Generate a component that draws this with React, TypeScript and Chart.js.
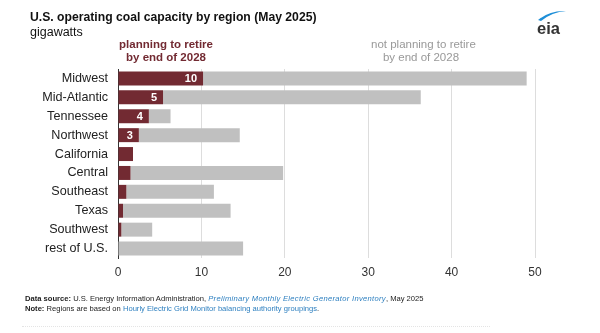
import React, { useEffect, useRef } from "react";
import { Chart, registerables } from "chart.js";

Chart.register(...registerables);

const regions = ["Midwest", "Mid-Atlantic", "Tennessee", "Northwest", "California", "Central", "Southeast", "Texas", "Southwest", "rest of U.S."];
const retiring = [10.2, 5.4, 3.7, 2.5, 1.8, 1.5, 1.0, 0.6, 0.4, 0];
const notRetiring = [38.8, 30.9, 2.6, 12.1, 0, 18.3, 10.5, 12.9, 3.7, 15.0];
const retireLabels = ["10", "5", "4", "3", "", "", "", "", "", ""];
const xTicks = [0, 10, 20, 30, 40, 50];

const RED = "#722a32";
const GREY = "#c0c0c0";
const FONT = "'Liberation Sans', Arial, sans-serif";

const barLabelPlugin = {
  id: "barLabels",
  afterDatasetsDraw(chart: any) {
    const meta = chart.getDatasetMeta(0);
    const ctx = chart.ctx;
    ctx.save();
    ctx.font = `bold 11px ${FONT}`;
    ctx.fillStyle = "#ffffff";
    ctx.textAlign = "right";
    ctx.textBaseline = "middle";
    meta.data.forEach((bar: any, i: number) => {
      const t = retireLabels[i];
      if (!t) return;
      ctx.fillText(t, bar.x - 6, bar.y + 0.5);
    });
    ctx.restore();
  },
};

export default function App() {
  const ref = useRef<HTMLCanvasElement | null>(null);
  useEffect(() => {
    if (!ref.current) return;
    const chart = new Chart(ref.current, {
      type: "bar",
      data: {
        labels: regions,
        datasets: [
          { label: "planning to retire by end of 2028", data: retiring, backgroundColor: RED, borderWidth: 0 },
          { label: "not planning to retire by end of 2028", data: notRetiring, backgroundColor: GREY, borderWidth: 0 },
        ],
      },
      options: {
        indexAxis: "y",
        responsive: false,
        animation: false,
        layout: { padding: { left: 0, right: 65, top: 69, bottom: 55 } },
        plugins: { legend: { display: false }, tooltip: { enabled: false } },
        datasets: { bar: { categoryPercentage: 1, barPercentage: 0.74 } },
        scales: {
          x: {
            stacked: true,
            min: 0,
            max: 50,
            afterBuildTicks: (s: any) => { s.ticks = xTicks.map((v) => ({ value: v })); },
            afterFit: (s: any) => { s.height = 20; },
            grid: {
              drawTicks: false,
              color: (c: any) => (c.tick && c.tick.value === 0 ? "#333333" : "#dddddd"),
              lineWidth: 1,
            },
            border: { display: false },
            ticks: { padding: 7, color: "#333", font: { family: FONT, size: 12 } },
          },
          y: {
            stacked: true,
            afterFit: (s: any) => { s.width = 118; },
            grid: { display: false, drawTicks: false },
            border: { display: true, color: "#333333" },
            ticks: { padding: 10, color: "#222", font: { family: FONT, size: 12.6 } },
          },
        },
      },
      plugins: [barLabelPlugin],
    } as any);
    return () => chart.destroy();
  }, []);

  const abs = (s: React.CSSProperties): React.CSSProperties => ({ position: "absolute", whiteSpace: "nowrap", ...s });

  return (
    <div style={{ position: "absolute", left: 0, top: 0, width: 600, height: 333, background: "#fff", overflow: "hidden", fontFamily: FONT }}>
      <canvas ref={ref} width={600} height={333} style={{ position: "absolute", left: 0, top: 0, width: 600, height: 333 }} />
      <div style={abs({ left: 30, top: 10, fontSize: 12.2, fontWeight: "bold", color: "#111" })}>U.S. operating coal capacity by region (May 2025)</div>
      <div style={abs({ left: 30, top: 25, fontSize: 12.5, color: "#111" })}>gigawatts</div>
      <div style={abs({ left: 116, top: 38, width: 100, textAlign: "center", fontSize: 11.5, fontWeight: "bold", color: RED, lineHeight: "12.5px" })}>
        planning to retire<br />by end of 2028
      </div>
      <div style={abs({ left: 371, top: 38, width: 100, textAlign: "center", fontSize: 11.5, color: "#999", lineHeight: "12.5px" })}>
        not planning to retire<br />by end of 2028
      </div>
      <svg style={{ position: "absolute", left: 532, top: 6, width: 40, height: 32 }} viewBox="0 0 40 32">
        <path d="M6 14 Q 18 4 34 5 Q 20 6 9 15 Z" fill="#1e8fd8" />
        <text x="5" y="28" fontFamily={FONT} fontSize="16.5" fontWeight="bold" fill="#333">eia</text>
      </svg>
      <div style={abs({ left: 25, top: 294, fontSize: 7.6, color: "#222", lineHeight: "9.5px" })}>
        <b>Data source:</b> U.S. Energy Information Administration, <i style={{ color: "#2f80c0", letterSpacing: "0.3px" }}>Preliminary Monthly Electric Generator Inventory</i>, May 2025
        <br />
        <b>Note:</b> Regions are based on <span style={{ color: "#2f80c0" }}>Hourly Electric Grid Monitor balancing authority groupings</span>.
      </div>
      <div style={{ position: "absolute", left: 22, top: 326, width: 468, borderTop: "1px dotted #e4e4e4" }} />
    </div>
  );
}
